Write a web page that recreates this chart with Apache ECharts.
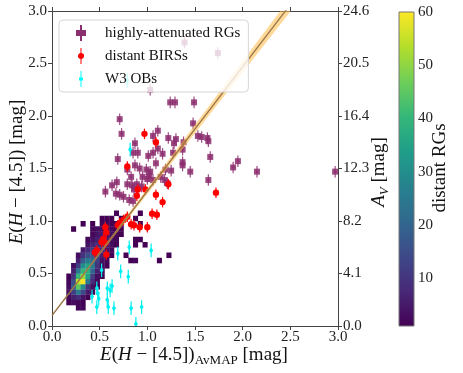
<!DOCTYPE html>
<html>
<head>
<meta charset="utf-8">
<script src="https://cdn.jsdelivr.net/npm/echarts@6/dist/echarts.min.js"></script>
<style>
  html, body { margin: 0; padding: 0; background: #fff; }
  #main { width: 463px; height: 373px; }
</style>
</head>
<body>
<div id="main"></div>
<script>
// 2D histogram of distant RGs: rows of bins (lower y edge, first x edge, counts)
var binW = 0.05;
var histRowY = [0.15, 0.20, 0.25, 0.30, 0.35, 0.40, 0.45, 0.50, 0.55, 0.60, 0.65, 0.70, 0.75, 0.80, 0.85, 0.90, 0.95, 1.00, 1.05];
var histRowX0 = [0.25, 0.15, 0.15, 0.15, 0.15, 0.15, 0.15, 0.20, 0.20, 0.25, 0.25, 0.30, 0.35, 0.35, 0.40, 0.20, 0.30, 0.50, 0.65];
var histRowCounts = [
    [2, 2],
    [1, 3, 2, 1],
    [2, 6, 8, 4, 1],
    [3, 12, 25, 14, 5, 1],
    [3, 18, 45, 30, 10, 3, 1],
    [2, 15, 55, 60, 25, 8, 2],
    [1, 10, 40, 50, 35, 12, 3, 1],
    [6, 25, 40, 38, 20, 6, 2],
    [3, 12, 30, 35, 25, 10, 3, 1],
    [6, 18, 25, 22, 12, 4, 2],
    [3, 10, 15, 18, 14, 6, 2, 1],
    [5, 8, 12, 12, 8, 4, 2],
    [4, 7, 9, 8, 5, 3, 1],
    [2, 4, 6, 7, 6, 3, 2],
    [2, 4, 5, 4, 3, 2, 1],
    [1, 0, 0, 0, 2, 3, 3, 2, 2, 1, 1],
    [1, 0, 1, 0, 2, 2, 1, 1, 1],
    [1, 1, 1, 0, 1],
    [1, 0, 0, 0, 0, 1]
];
// lone bins away from the main band [x, y, count]
var histSparse = [
    [0.80, 0.60, 1], [0.85, 0.60, 2], [1.10, 0.60, 1],
    [0.75, 0.65, 1], [1.20, 0.65, 1],
    [0.85, 0.75, 1], [0.95, 0.75, 1],
    [0.85, 0.80, 1], [0.90, 0.80, 1],
    [0.90, 0.95, 1], [0.85, 1.00, 1]
];

// highly-attenuated RGs
var rgX = [1.39, 1.74, 1.03, 1.24, 1.29, 1.49, 0.71, 0.73, 1.48, 1.11, 1.06, 1.22, 1.30, 1.28, 1.38, 1.53, 1.57, 1.63, 1.64, 0.87,
           0.90, 0.85, 0.69, 1.06, 1.11, 1.16, 1.01, 1.27, 1.37, 1.66, 1.09, 1.37, 1.37, 1.45, 1.90, 1.95, 2.15, 2.97, 1.64, 0.92,
           0.87, 0.99, 1.03, 0.95, 1.00, 1.06, 1.02, 1.19, 1.25, 1.18, 1.21, 1.14, 0.83, 0.79, 0.84, 0.89, 0.94, 0.79, 0.68, 0.63,
           0.56, 0.67, 0.75, 0.81, 0.85, 0.71, 0.86];
var rgY = [2.70, 2.60, 2.25, 2.13, 2.13, 2.13, 1.97, 1.83, 1.93, 1.86, 1.81, 1.79, 1.78, 1.74, 1.75, 1.81, 1.80, 1.79, 1.76, 1.74,
           1.65, 1.65, 1.59, 1.65, 1.69, 1.64, 1.62, 1.65, 1.68, 1.61, 1.55, 1.56, 1.53, 1.47, 1.51, 1.57, 1.47, 1.47, 1.39, 1.50,
           1.53, 1.49, 1.47, 1.42, 1.40, 1.39, 1.43, 1.49, 1.48, 1.39, 1.36, 1.42, 1.42, 1.35, 1.34, 1.35, 1.33, 1.49, 1.37, 1.34,
           1.28, 1.26, 1.23, 1.20, 1.19, 1.25, 1.30];

// distant BIRSs
var birsX = [0.97, 1.09, 0.79, 0.90, 0.98, 0.89, 1.09, 1.22, 1.16, 1.72, 1.05, 1.10, 0.79, 0.75, 0.71, 0.69, 0.92, 1.00, 0.83, 0.56,
             0.57, 0.54, 0.52, 0.56, 0.47, 0.45, 0.57, 0.86];
var birsY = [1.83, 1.75, 1.52, 1.30, 1.30, 1.24, 1.25, 1.35, 1.18, 1.27, 1.07, 1.06, 1.04, 1.01, 0.98, 0.96, 0.94, 0.94, 0.97, 0.94,
             0.89, 0.83, 0.80, 0.79, 0.72, 0.70, 0.68, 0.96];

// W3 OBs
var obX = [0.79, 0.82, 0.81, 0.69, 1.04, 0.72, 0.52, 0.80, 0.47, 0.58, 0.63, 0.48, 0.42, 0.49, 0.58, 0.61, 0.47, 0.59, 0.65, 0.83,
           0.94, 0.88];
var obY = [2.34, 1.68, 0.75, 0.69, 0.72, 0.52, 0.53, 0.47, 0.36, 0.36, 0.38, 0.31, 0.28, 0.26, 0.25, 0.34, 0.18, 0.18, 0.17, 0.17,
           0.18, 0.02];

// fitted relation and its uncertainty band
var fitX = [0, 2.6];
var fitY = [0.1, 3.18];
var bandLoY = [0.1, 3.11];
var bandHiY = [0.1, 3.25];

var cbarTicks = [10, 20, 30, 40, 50, 60];
var cbarMin = 1, cbarMax = 60;

var viridis = ['#440154', '#482878', '#3e4989', '#31688e', '#26828e', '#1f9e89', '#35b779', '#6ece58', '#b5de2b', '#fde725'];

var histData = [];
for (var r = 0; r < histRowY.length; r++) {
    for (var k = 0; k < histRowCounts[r].length; k++) {
        var c = histRowCounts[r][k];
        if (c > 0) histData.push([histRowX0[r] + k * binW, histRowY[r], c]);
    }
}
histData = histData.concat(histSparse);

function zip(a, b) {
    var out = [];
    for (var i = 0; i < a.length; i++) out.push([a[i], b[i]]);
    return out;
}

var serif = '"Liberation Serif", "DejaVu Serif", serif';
var axisCol = '#444';

function markerRender(kind, color, ex, ey) {
    return function (params, api) {
        var x = api.value(0), y = api.value(1);
        var c = api.coord([x, y]);
        var top = api.coord([x, y + ey]);
        var bot = api.coord([x, y - ey]);
        var lft = api.coord([x - ex, y]);
        var rgt = api.coord([x + ex, y]);
        var kids = [
            { type: 'line', shape: { x1: c[0], y1: top[1], x2: c[0], y2: bot[1] }, style: { stroke: color, lineWidth: 1.2 } },
            { type: 'line', shape: { x1: lft[0], y1: c[1], x2: rgt[0], y2: c[1] }, style: { stroke: color, lineWidth: 1.2 } }
        ];
        if (kind === 'square') {
            kids.push({ type: 'rect', shape: { x: c[0] - 3, y: c[1] - 3, width: 6, height: 6 }, style: { fill: color } });
        } else if (kind === 'circle') {
            kids.push({ type: 'circle', shape: { cx: c[0], cy: c[1], r: 3.2 }, style: { fill: color } });
        } else {
            kids.push({ type: 'polygon', shape: { points: [[c[0], c[1] - 3], [c[0] + 2, c[1]], [c[0], c[1] + 3], [c[0] - 2, c[1]]] }, style: { fill: color } });
        }
        return { type: 'group', children: kids };
    };
}

// axis titles as free text (rich text for italics and subscripts)
var titleRich = {
    n: { fontFamily: serif, fontSize: 19, color: '#111' },
    i: { fontFamily: serif, fontSize: 19, fontStyle: 'italic', color: '#111' },
    s: { fontFamily: serif, fontSize: 13, color: '#111', padding: [11, 0, 0, 0] },
    si: { fontFamily: serif, fontSize: 13, fontStyle: 'italic', color: '#111', padding: [11, 0, 0, 0] }
};
function titleText(x, y, rot, text) {
    return {
        type: 'text', x: x, y: y, rotation: rot, z: 30,
        style: { text: text, rich: titleRich, align: 'center', verticalAlign: 'middle', font: '19px ' + serif, fill: '#111' }
    };
}

var myChart = echarts.init(document.getElementById('main'));

var option = {
    backgroundColor: '#fff',
    animation: false,
    grid: [
        { left: 52, top: 11, width: 286, height: 315, show: false, containLabel: false, outerBoundsMode: 'none' },
        { left: 399, top: 12, width: 15, height: 314, show: false, containLabel: false, outerBoundsMode: 'none' }
    ],
    graphic: [
        titleText(194, 355, 0, '{i|E}{n|(}{i|H}{n| − [4.5])}{s|AvMAP}{n| [mag]}'),
        titleText(17, 172, Math.PI / 2, '{i|E}{n|(}{i|H}{n| − [4.5]) [mag]}'),
        titleText(379, 172, Math.PI / 2, '{i|A}{si|V}{n| [mag]}'),
        titleText(440, 168, Math.PI / 2, '{n|distant RGs}')
    ],
    legend: {
        left: 59,
        top: 20,
        z: 20,
        orient: 'vertical',
        padding: [5, 8, 5, 17],
        itemWidth: 10,
        itemHeight: 16,
        itemGap: 7,
        backgroundColor: 'rgba(255,255,255,0.8)',
        borderColor: '#d6d6d6',
        borderWidth: 1,
        borderRadius: 4,
        textStyle: { fontFamily: serif, fontSize: 15, color: '#111', padding: [0, 0, 0, 14] },
        data: [
            { name: 'highly-attenuated RGs', icon: 'path://M4,0H6V5H10V11H6V16H4V11H0V5H4Z' },
            { name: 'distant BIRSs', icon: 'path://M4.5,0H5.5V5.04A3,3 0 0,1 5.5,10.96V16H4.5V10.96A3,3 0 0,1 4.5,5.04Z' },
            { name: 'W3 OBs', icon: 'path://M4.5,0H5.5V6.5H7V9.5H5.5V16H4.5V9.5H3V6.5H4.5Z' }
        ]
    },
    visualMap: {
        type: 'continuous',
        show: false,
        min: cbarMin,
        max: cbarMax,
        dimension: 2,
        seriesIndex: 0,
        inRange: { color: viridis }
    },
    xAxis: [
        {
            gridIndex: 0, type: 'value', min: 0, max: 3, interval: 0.5,
            axisLine: { onZero: false, lineStyle: { color: axisCol, width: 1 } },
            axisTick: { length: 4, lineStyle: { color: axisCol } },
            axisLabel: { fontFamily: serif, fontSize: 15, color: '#222', margin: 4, formatter: function (v) { return v.toFixed(1); } },
            splitLine: { show: false }
        },
        {
            gridIndex: 0, type: 'value', min: 0, max: 3, interval: 0.5, position: 'top',
            axisLine: { onZero: false, lineStyle: { color: axisCol, width: 1 } },
            axisTick: { length: 4, lineStyle: { color: axisCol } },
            axisLabel: { show: false },
            splitLine: { show: false }
        },
        {
            gridIndex: 1, type: 'value', min: 0, max: 1, show: false
        }
    ],
    yAxis: [
        {
            gridIndex: 0, type: 'value', min: 0, max: 3, interval: 0.5,
            axisLine: { onZero: false, lineStyle: { color: axisCol, width: 1 } },
            axisTick: { length: 4, lineStyle: { color: axisCol } },
            axisLabel: { fontFamily: serif, fontSize: 15, color: '#222', margin: 5, formatter: function (v) { return v.toFixed(1); } },
            splitLine: { show: false }
        },
        {
            gridIndex: 0, type: 'value', min: 0, max: 24.6, interval: 4.1, position: 'right',
            axisLine: { onZero: false, lineStyle: { color: axisCol, width: 1 } },
            axisTick: { length: 4, lineStyle: { color: axisCol } },
            axisLabel: { fontFamily: serif, fontSize: 15, color: '#222', margin: 5, formatter: function (v) { return v.toFixed(1); } },
            splitLine: { show: false }
        },
        {
            gridIndex: 1, type: 'value', min: cbarMin, max: cbarMax, position: 'right',
            axisLine: { show: false },
            axisTick: { length: 4, lineStyle: { color: axisCol }, customValues: cbarTicks },
            axisLabel: { fontFamily: serif, fontSize: 15, color: '#222', margin: 4, customValues: cbarTicks },
            splitLine: { show: false }
        }
    ],
    series: [
        {
            name: 'hist',
            type: 'custom',
            xAxisIndex: 0, yAxisIndex: 0,
            clip: true,
            encode: { x: 0, y: 1 },
            data: histData,
            renderItem: function (params, api) {
                var x = api.value(0), y = api.value(1);
                var p0 = api.coord([x, y + binW]);
                var p1 = api.coord([x + binW, y]);
                return {
                    type: 'rect',
                    shape: { x: p0[0], y: p0[1], width: p1[0] - p0[0] + 0.3, height: p1[1] - p0[1] + 0.3 },
                    style: { fill: api.visual('color') }
                };
            },
            z: 2
        },
        {
            name: 'highly-attenuated RGs',
            type: 'custom',
            xAxisIndex: 0, yAxisIndex: 0,
            clip: true,
            encode: { x: 0, y: 1 },
            itemStyle: { color: '#8c2f6e' },
            data: zip(rgX, rgY),
            renderItem: markerRender('square', 'rgba(140,45,110,0.85)', 0.015, 0.055),
            z: 3
        },
        {
            name: 'distant BIRSs',
            type: 'custom',
            xAxisIndex: 0, yAxisIndex: 0,
            clip: true,
            encode: { x: 0, y: 1 },
            itemStyle: { color: '#ff0000' },
            data: zip(birsX, birsY),
            renderItem: markerRender('circle', '#ff0000', 0.01, 0.05),
            z: 4
        },
        {
            name: 'W3 OBs',
            type: 'custom',
            xAxisIndex: 0, yAxisIndex: 0,
            clip: true,
            encode: { x: 0, y: 1 },
            itemStyle: { color: '#00ffff' },
            data: zip(obX, obY),
            renderItem: markerRender('star', '#00f0f0', 0.015, 0.065),
            z: 4
        },
        {
            name: 'band',
            type: 'custom',
            xAxisIndex: 0, yAxisIndex: 0,
            clip: true,
            data: [[0]],
            renderItem: function (params, api) {
                var pts = [];
                for (var i = 0; i < fitX.length; i++) pts.push(api.coord([fitX[i], bandLoY[i]]));
                for (var j = fitX.length - 1; j >= 0; j--) pts.push(api.coord([fitX[j], bandHiY[j]]));
                return { type: 'polygon', shape: { points: pts }, style: { fill: 'rgba(255,185,70,0.55)' } };
            },
            z: 5
        },
        {
            name: 'fit',
            type: 'line',
            xAxisIndex: 0, yAxisIndex: 0,
            clip: true,
            symbol: 'none',
            data: zip(fitX, fitY),
            lineStyle: { color: '#9a7646', width: 1.3 },
            z: 6
        },
        {
            name: 'colorbar',
            type: 'custom',
            xAxisIndex: 2, yAxisIndex: 2,
            data: [[0]],
            renderItem: function (params, api) {
                var a = api.coord([0, cbarMax]);
                var b = api.coord([1, cbarMin]);
                var stops = [];
                for (var i = 0; i < viridis.length; i++) stops.push({ offset: i / (viridis.length - 1), color: viridis[i] });
                return {
                    type: 'rect',
                    shape: { x: a[0], y: a[1], width: b[0] - a[0], height: b[1] - a[1] },
                    style: {
                        fill: { type: 'linear', x: 0, y: 1, x2: 0, y2: 0, colorStops: stops },
                        stroke: '#777', lineWidth: 1
                    }
                };
            }
        }
    ]
};

if (option && typeof option === 'object') {
    myChart.setOption(option, true);
}
</script>
</body>
</html>
